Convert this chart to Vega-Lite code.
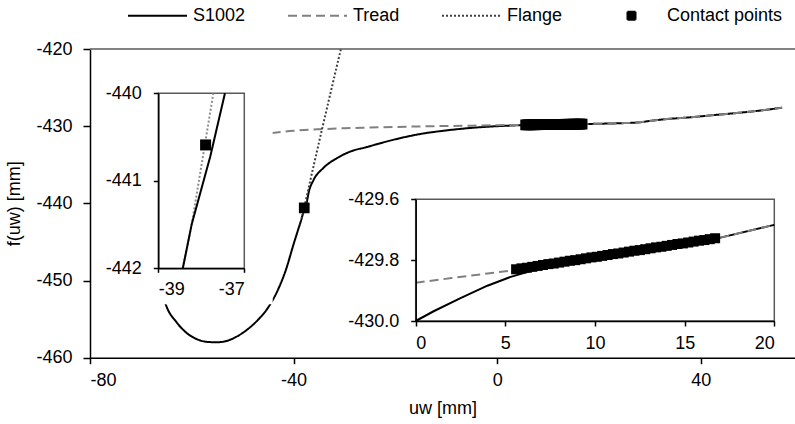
{
  "$schema": "https://vega.github.io/schema/vega-lite/v6.json",
  "width": 705,
  "height": 308.7,
  "autosize": {"type": "none"},
  "padding": {"left": 90, "top": 49, "right": 0, "bottom": 66.3},
  "background": "white",
  "config": {
    "view": {"stroke": null},
    "font": "Liberation Sans",
    "axis": {"labelFont": "Liberation Sans", "labelFontSize": 18, "labelColor": "black", "titleFont": "Liberation Sans", "titleFontSize": 18, "titleFontWeight": "normal", "titleColor": "black", "grid": false, "domainColor": "black", "tickColor": "black", "domainWidth": 1.5, "tickWidth": 1.5, "labelOverlap": false}
  },
  "datasets": {
    "profiles": [
      {"series": "S1002", "u": -66.0, "f": -451.2},
      {"series": "S1002", "u": -65.0, "f": -453.3},
      {"series": "S1002", "u": -63.0, "f": -455.4},
      {"series": "S1002", "u": -61.0, "f": -456.8},
      {"series": "S1002", "u": -59.0, "f": -457.6},
      {"series": "S1002", "u": -57.0, "f": -457.95},
      {"series": "S1002", "u": -55.0, "f": -458.0},
      {"series": "S1002", "u": -53.0, "f": -457.8},
      {"series": "S1002", "u": -51.0, "f": -457.2},
      {"series": "S1002", "u": -49.0, "f": -456.3},
      {"series": "S1002", "u": -47.0, "f": -455.1},
      {"series": "S1002", "u": -45.0, "f": -453.5},
      {"series": "S1002", "u": -43.0, "f": -451.1},
      {"series": "S1002", "u": -41.5, "f": -448.6},
      {"series": "S1002", "u": -40.0, "f": -445.3},
      {"series": "S1002", "u": -39.0, "f": -443.2},
      {"series": "S1002", "u": -38.43, "f": -442.0},
      {"series": "S1002", "u": -38.22, "f": -441.49},
      {"series": "S1002", "u": -37.79, "f": -440.72},
      {"series": "S1002", "u": -37.45, "f": -440.0},
      {"series": "S1002", "u": -37.0, "f": -438.5},
      {"series": "S1002", "u": -36.1, "f": -437.0},
      {"series": "S1002", "u": -34.2, "f": -435.45},
      {"series": "S1002", "u": -31.5, "f": -434.15},
      {"series": "S1002", "u": -28.9, "f": -433.3},
      {"series": "S1002", "u": -25.6, "f": -432.7},
      {"series": "S1002", "u": -20.0, "f": -431.7},
      {"series": "S1002", "u": -15.0, "f": -431.0},
      {"series": "S1002", "u": -10.0, "f": -430.55},
      {"series": "S1002", "u": -5.0, "f": -430.22},
      {"series": "S1002", "u": 0.0, "f": -430.0},
      {"series": "S1002", "u": 2.5, "f": -429.925},
      {"series": "S1002", "u": 5.0, "f": -429.86},
      {"series": "S1002", "u": 7.0, "f": -429.828},
      {"series": "S1002", "u": 10.0, "f": -429.79},
      {"series": "S1002", "u": 15.0, "f": -429.748},
      {"series": "S1002", "u": 17.0, "f": -429.726},
      {"series": "S1002", "u": 20.0, "f": -429.684},
      {"series": "S1002", "u": 25.0, "f": -429.6},
      {"series": "S1002", "u": 28.0, "f": -429.5},
      {"series": "S1002", "u": 30.0, "f": -429.32},
      {"series": "S1002", "u": 33.0, "f": -429.1},
      {"series": "S1002", "u": 38.0, "f": -428.85},
      {"series": "S1002", "u": 42.0, "f": -428.6},
      {"series": "S1002", "u": 47.0, "f": -428.3},
      {"series": "S1002", "u": 52.0, "f": -427.95},
      {"series": "S1002", "u": 56.0, "f": -427.6},
      {"series": "Tread", "u": -44.3, "f": -430.9},
      {"series": "Tread", "u": -40.0, "f": -430.6},
      {"series": "Tread", "u": -35.0, "f": -430.4},
      {"series": "Tread", "u": -30.0, "f": -430.27},
      {"series": "Tread", "u": -25.0, "f": -430.18},
      {"series": "Tread", "u": -20.0, "f": -430.1},
      {"series": "Tread", "u": -15.0, "f": -430.03},
      {"series": "Tread", "u": -10.0, "f": -429.98},
      {"series": "Tread", "u": -5.0, "f": -429.93},
      {"series": "Tread", "u": 0.0, "f": -429.875},
      {"series": "Tread", "u": 2.5, "f": -429.855},
      {"series": "Tread", "u": 5.0, "f": -429.838},
      {"series": "Tread", "u": 7.0, "f": -429.826},
      {"series": "Tread", "u": 10.0, "f": -429.79},
      {"series": "Tread", "u": 15.0, "f": -429.748},
      {"series": "Tread", "u": 17.0, "f": -429.726},
      {"series": "Tread", "u": 20.0, "f": -429.684},
      {"series": "Tread", "u": 25.0, "f": -429.6},
      {"series": "Tread", "u": 28.0, "f": -429.5},
      {"series": "Tread", "u": 30.0, "f": -429.32},
      {"series": "Tread", "u": 33.0, "f": -429.1},
      {"series": "Tread", "u": 38.0, "f": -428.85},
      {"series": "Tread", "u": 42.0, "f": -428.6},
      {"series": "Tread", "u": 47.0, "f": -428.3},
      {"series": "Tread", "u": 52.0, "f": -427.95},
      {"series": "Tread", "u": 56.0, "f": -427.6},
      {"series": "Flange", "u": -38.43, "f": -442.0},
      {"series": "Flange", "u": -38.22, "f": -441.49},
      {"series": "Flange", "u": -37.72, "f": -440.0},
      {"series": "Flange", "u": -30.7, "f": -420.0}
    ],
    "contact": [
      {"series": "Contact points", "u": -37.9, "f": -440.59},
      {"series": "Contact points", "u": 5.6, "f": -429.830},
      {"series": "Contact points", "u": 5.9, "f": -429.827},
      {"series": "Contact points", "u": 6.2, "f": -429.825},
      {"series": "Contact points", "u": 6.5, "f": -429.822},
      {"series": "Contact points", "u": 6.8, "f": -429.819},
      {"series": "Contact points", "u": 7.1, "f": -429.816},
      {"series": "Contact points", "u": 7.4, "f": -429.813},
      {"series": "Contact points", "u": 7.7, "f": -429.811},
      {"series": "Contact points", "u": 8.0, "f": -429.808},
      {"series": "Contact points", "u": 8.3, "f": -429.805},
      {"series": "Contact points", "u": 8.6, "f": -429.802},
      {"series": "Contact points", "u": 8.9, "f": -429.800},
      {"series": "Contact points", "u": 9.2, "f": -429.797},
      {"series": "Contact points", "u": 9.5, "f": -429.794},
      {"series": "Contact points", "u": 9.8, "f": -429.791},
      {"series": "Contact points", "u": 10.1, "f": -429.789},
      {"series": "Contact points", "u": 10.4, "f": -429.786},
      {"series": "Contact points", "u": 10.7, "f": -429.783},
      {"series": "Contact points", "u": 11.0, "f": -429.780},
      {"series": "Contact points", "u": 11.3, "f": -429.778},
      {"series": "Contact points", "u": 11.6, "f": -429.775},
      {"series": "Contact points", "u": 11.9, "f": -429.772},
      {"series": "Contact points", "u": 12.2, "f": -429.769},
      {"series": "Contact points", "u": 12.5, "f": -429.767},
      {"series": "Contact points", "u": 12.8, "f": -429.764},
      {"series": "Contact points", "u": 13.1, "f": -429.761},
      {"series": "Contact points", "u": 13.4, "f": -429.758},
      {"series": "Contact points", "u": 13.7, "f": -429.756},
      {"series": "Contact points", "u": 14.0, "f": -429.753},
      {"series": "Contact points", "u": 14.3, "f": -429.750},
      {"series": "Contact points", "u": 14.6, "f": -429.747},
      {"series": "Contact points", "u": 14.9, "f": -429.745},
      {"series": "Contact points", "u": 15.2, "f": -429.742},
      {"series": "Contact points", "u": 15.5, "f": -429.739},
      {"series": "Contact points", "u": 15.8, "f": -429.736},
      {"series": "Contact points", "u": 16.1, "f": -429.734},
      {"series": "Contact points", "u": 16.4, "f": -429.731},
      {"series": "Contact points", "u": 16.7, "f": -429.728}
    ],
    "leftInset": [
      {"series": "S1002", "u": -38.43, "f": -442.0},
      {"series": "S1002", "u": -38.22, "f": -441.49},
      {"series": "S1002", "u": -37.79, "f": -440.72},
      {"series": "S1002", "u": -37.45, "f": -440.0},
      {"series": "Flange", "u": -38.43, "f": -442.0},
      {"series": "Flange", "u": -38.22, "f": -441.49},
      {"series": "Flange", "u": -37.72, "f": -440.0}
    ],
    "rightInset": [
      {"series": "S1002", "u": 0, "f": -430.0},
      {"series": "S1002", "u": 1, "f": -429.968},
      {"series": "S1002", "u": 2.5, "f": -429.925},
      {"series": "S1002", "u": 4, "f": -429.884},
      {"series": "S1002", "u": 5.3, "f": -429.855},
      {"series": "S1002", "u": 6.65, "f": -429.832},
      {"series": "S1002", "u": 8, "f": -429.813},
      {"series": "S1002", "u": 10, "f": -429.79},
      {"series": "S1002", "u": 12, "f": -429.773},
      {"series": "S1002", "u": 15, "f": -429.748},
      {"series": "S1002", "u": 17, "f": -429.726},
      {"series": "S1002", "u": 20, "f": -429.684},
      {"series": "Tread", "u": 0, "f": -429.874},
      {"series": "Tread", "u": 2, "f": -429.859},
      {"series": "Tread", "u": 4, "f": -429.844},
      {"series": "Tread", "u": 6, "f": -429.829},
      {"series": "Tread", "u": 8, "f": -429.813},
      {"series": "Tread", "u": 10, "f": -429.79},
      {"series": "Tread", "u": 12, "f": -429.773},
      {"series": "Tread", "u": 15, "f": -429.748},
      {"series": "Tread", "u": 17, "f": -429.726},
      {"series": "Tread", "u": 20, "f": -429.684}
    ]
  },
  "layer": [
    {
      "layer": [
        {
          "data": {"name": "profiles"},
          "mark": {"type": "line", "strokeWidth": 2, "interpolate": "monotone"},
          "encoding": {
            "x": {"field": "u", "type": "quantitative", "scale": {"domain": [-80, 58.53], "nice": false, "zero": false},
              "axis": {"orient": "bottom", "values": [-80, -40, 0, 40], "title": "uw [mm]", "tickSize": 6, "labelPadding": 8, "titlePadding": 10, "labelExpr": "replace(datum.label, '\u2212', '-')"}},
            "y": {"field": "f", "type": "quantitative", "scale": {"domain": [-460, -420], "nice": false, "zero": false},
              "axis": {"orient": "left", "values": [-460, -450, -440, -430, -420], "title": "f(uw) [mm]", "tickSize": 7, "labelPadding": 11, "titlePadding": 12, "labelExpr": "replace(datum.label, '\u2212', '-')"}},
            "color": {"field": "series", "type": "nominal",
              "scale": {"domain": ["S1002", "Tread", "Flange", "Contact points"], "range": ["black", "#808080", "#404040", "black"]},
              "legend": {"orient": "none", "legendX": 37, "legendY": -64, "direction": "horizontal", "columns": 4, "title": null,
                "labelFont": "Liberation Sans", "labelFontSize": 18, "labelColor": "black", "labelOffset": 5, "columnPadding": 38,
                "symbolSize": 3481, "symbolStrokeWidth": 2, "symbolType": "stroke",
                "encode": {"symbols": {"update": {
                  "fill": {"signal": "datum.value === 'Contact points' ? 'black' : 'transparent'"},
                  "size": {"signal": "datum.value === 'Contact points' ? 64 : 3481"}}}}}},
            "strokeDash": {"field": "series", "type": "nominal",
              "scale": {"domain": ["S1002", "Tread", "Flange", "Contact points"], "range": [[1, 0], [9, 5], [2, 2], [1, 0]]}}
          }
        },
        {
          "data": {"name": "contact"},
          "mark": {"type": "point", "filled": true, "size": 115, "opacity": 1},
          "encoding": {
            "x": {"field": "u", "type": "quantitative"},
            "y": {"field": "f", "type": "quantitative"},
            "color": {"field": "series", "type": "nominal"},
            "shape": {"field": "series", "type": "nominal",
              "scale": {"domain": ["S1002", "Tread", "Flange", "Contact points"], "range": ["stroke", "stroke", "stroke", "square"]}}
          }
        },
        {
          "data": {"values": [{}]},
          "mark": {"type": "rule", "color": "#595959", "strokeWidth": 1.5},
          "encoding": {"y": {"datum": -420, "type": "quantitative"}}
        }
      ]
    },
    {
      "layer": [
        {
          "data": {"values": [{}]},
          "mark": {"type": "rect", "fill": "white"},
          "encoding": {
            "x": {"datum": -40.36, "type": "quantitative", "scale": {"domain": [-39, -37], "range": [68.3, 154.3], "nice": false, "zero": false},
              "axis": {"orient": "bottom", "offset": -89.4, "values": [-39, -37], "title": null, "zindex": 1, "tickSize": 4, "labelPadding": 8, "labelOverlap": false, "labelExpr": "replace(format(datum.value, '.0f'), '\u2212', '-')"}},
            "x2": {"datum": -36.34},
            "y": {"datum": -442.41, "type": "quantitative", "scale": {"domain": [-442, -440], "range": [219.3, 44.3], "nice": false, "zero": false},
              "axis": {"orient": "left", "offset": -68.3, "values": [-442, -441, -440], "title": null, "zindex": 1, "tickSize": 5, "labelPadding": 12, "labelOverlap": false, "labelExpr": "replace(format(datum.value, '.0f'), '\u2212', '-')"}},
            "y2": {"datum": -439.85}
          }
        },
        {
          "data": {"values": [{}]},
          "mark": {"type": "rect", "fill": "white", "stroke": "#595959", "strokeWidth": 1.5},
          "encoding": {
            "x": {"datum": -39, "type": "quantitative"},
            "x2": {"datum": -37},
            "y": {"datum": -442, "type": "quantitative"},
            "y2": {"datum": -440}
          }
        },
        {
          "data": {"name": "leftInset"},
          "transform": [{"filter": "datum.series === 'Flange'"}],
          "mark": {"type": "line", "strokeWidth": 2, "color": "#8c8c8c", "strokeDash": [2, 2]},
          "encoding": {"x": {"field": "u", "type": "quantitative"}, "y": {"field": "f", "type": "quantitative"}}
        },
        {
          "data": {"name": "leftInset"},
          "transform": [{"filter": "datum.series === 'S1002'"}],
          "mark": {"type": "line", "strokeWidth": 2, "color": "black"},
          "encoding": {"x": {"field": "u", "type": "quantitative"}, "y": {"field": "f", "type": "quantitative"}}
        },
        {
          "data": {"name": "contact"},
          "transform": [{"filter": "datum.u < 0"}],
          "mark": {"type": "point", "shape": "square", "filled": true, "size": 121, "color": "black", "opacity": 1},
          "encoding": {"x": {"field": "u", "type": "quantitative"}, "y": {"field": "f", "type": "quantitative"}}
        }
      ]
    },
    {
      "layer": [
        {
          "data": {"values": [{}]},
          "mark": {"type": "rect", "fill": "white", "stroke": "#595959", "strokeWidth": 1.5},
          "encoding": {
            "x": {"datum": 0, "type": "quantitative", "scale": {"domain": [0, 20], "range": [325.7, 684.3], "nice": false, "zero": false},
              "axis": {"orient": "bottom", "offset": -36.7, "values": [0, 5, 10, 15, 20], "title": null, "zindex": 1, "tickSize": 5, "labelPadding": 8, "labelOverlap": false, "labelExpr": "format(datum.value, '.0f')"}},
            "x2": {"datum": 20},
            "y": {"datum": -430, "type": "quantitative", "scale": {"domain": [-430, -429.6], "range": [272, 150.3], "nice": false, "zero": false},
              "axis": {"orient": "left", "offset": -325.7, "values": [-430, -429.8, -429.6], "title": null, "zindex": 1, "tickSize": 5, "labelPadding": 12, "labelOverlap": false, "labelExpr": "replace(format(datum.value, '.1f'), '\u2212', '-')"}},
            "y2": {"datum": -429.6}
          }
        },
        {
          "data": {"name": "rightInset"},
          "transform": [{"filter": "datum.series === 'S1002'"}],
          "mark": {"type": "line", "strokeWidth": 2, "color": "black"},
          "encoding": {"x": {"field": "u", "type": "quantitative"}, "y": {"field": "f", "type": "quantitative"}}
        },
        {
          "data": {"name": "rightInset"},
          "transform": [{"filter": "datum.series === 'Tread'"}],
          "mark": {"type": "line", "strokeWidth": 2, "color": "#808080", "strokeDash": [9, 5]},
          "encoding": {"x": {"field": "u", "type": "quantitative"}, "y": {"field": "f", "type": "quantitative"}}
        },
        {
          "data": {"name": "contact"},
          "transform": [{"filter": "datum.u > 0"}],
          "mark": {"type": "point", "shape": "square", "filled": true, "size": 100, "color": "black", "opacity": 1},
          "encoding": {"x": {"field": "u", "type": "quantitative"}, "y": {"field": "f", "type": "quantitative"}}
        }
      ]
    }
  ],
  "resolve": {"scale": {"x": "independent", "y": "independent"}, "axis": {"x": "independent", "y": "independent"}}
}
